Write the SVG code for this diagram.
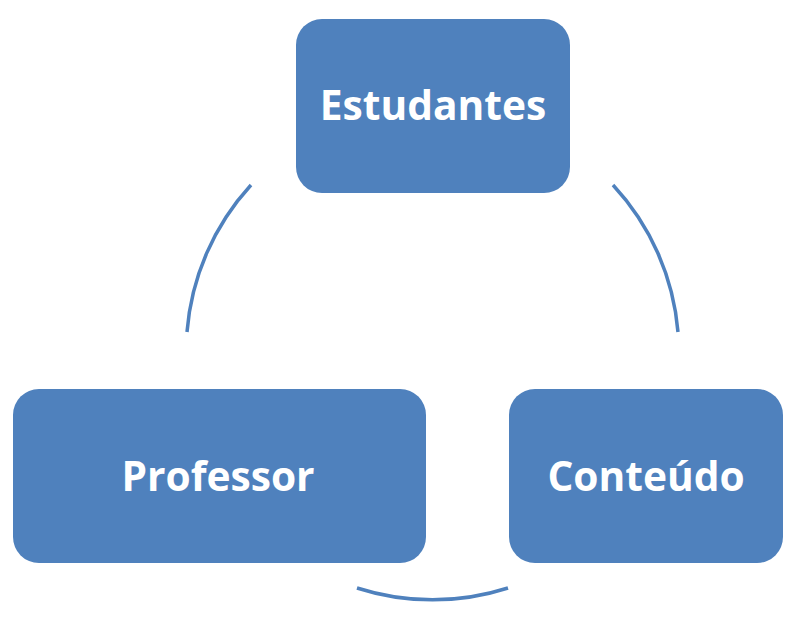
<svg xmlns="http://www.w3.org/2000/svg" width="804" height="619" viewBox="0 0 804 619">
<style>
.box{fill:#4F81BD;}
.lbl{font-family:"Open Sans","Noto Sans","Liberation Sans",sans-serif;font-weight:bold;font-size:40.7px;fill:#FFFFFF;text-anchor:middle;}
.arc{fill:none;stroke:#4F81BD;stroke-width:3.5;}
</style>
<rect width="804" height="619" fill="#FFFFFF"/>
<g id="connectors">
<path class="arc" d="M 251 185 A 246 246 0 0 0 187 332"/>
<path class="arc" d="M 613 185 A 246 246 0 0 1 678 332"/>
<path class="arc" d="M 508 588 A 246 246 0 0 1 357 588"/>
</g>
<g id="estudantes">
<rect class="box" x="296" y="19" width="274" height="174" rx="26" ry="26"/>
<text class="lbl" x="433" y="120">Estudantes</text>
</g>
<g id="professor">
<rect class="box" x="13" y="389" width="413" height="174" rx="26" ry="26"/>
<text class="lbl" x="218" y="491">Professor</text>
</g>
<g id="conteudo">
<rect class="box" x="509" y="389" width="274" height="174" rx="26" ry="26"/>
<text class="lbl" x="646" y="491">Conteúdo</text>
</g>
</svg>
